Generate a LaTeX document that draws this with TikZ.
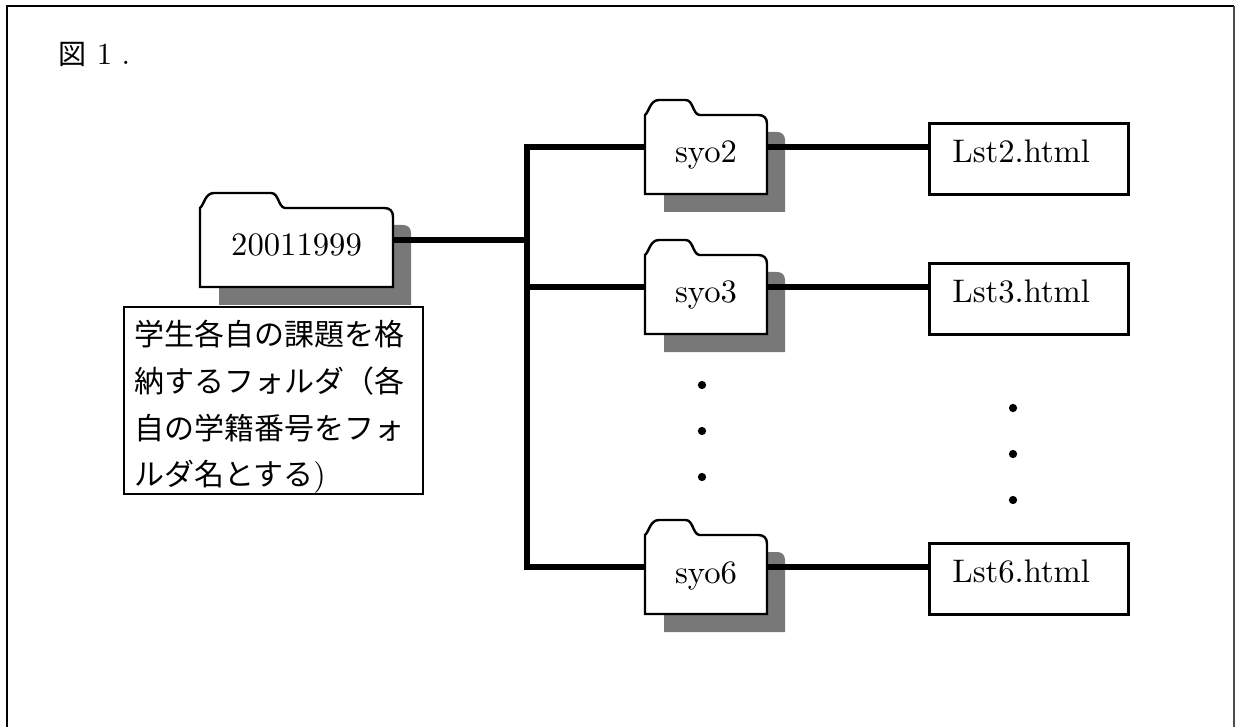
\documentclass[tikz,border=0pt]{standalone}
\usepackage{fontspec}
\usepackage{tikz}
\usetikzlibrary{positioning}
\setmainfont{lmroman10-regular.otf}
\newfontfamily\cjk{Noto Sans CJK JP}
\definecolor{foldershade}{RGB}{120,120,120}
\newcommand{\folderbox}[5]{
\begin{scope}[shift={(#2,#3)}]
\fill[foldershade] (19,112) -- (19,32) -- (#4+10,32) .. controls (#4+15,32) and (#4+18,35) .. (#4+18,40) -- (#4+18,112) -- cycle;
\draw[outline,fill=white] (0,94) -- (0,15) .. controls (4,12) and (5,0) .. (14,0) -- (#4*0.43-12,0) .. controls (#4*0.43-4,0) and (#4*0.43-5,14) .. (#4*0.43+2,15) -- (#4-9,15) .. controls (#4-3,15) and (#4,18) .. (#4,24) -- (#4,94) -- cycle;
\node[folder,minimum width=0.75pt*#4] (#1) at (#4/2,47) {#5};
\end{scope}
}
\begin{document}
\begin{tikzpicture}[
  x=0.75pt,y=-0.75pt,
  node distance=122pt,
  every node/.style={font=\fontsize{24.5}{28}\selectfont},
  outline/.style={line width=1.8pt,draw=black},
  folder/.style={rectangle,inner sep=0pt,outer sep=0pt,minimum height=70.5pt,text height=30pt,text depth=6pt},
  lstbox/.style={rectangle,draw,line width=1.8pt,outer sep=0pt,inner xsep=17pt,inner ysep=0pt,text width=115pt,align=left,minimum height=53pt,text height=17pt,text depth=12pt,yshift=-9pt},
  notebox/.style={rectangle,draw,line width=1.8pt,inner xsep=7.5pt,inner ysep=0pt,text width=209pt,minimum height=136pt,align=left,font=\fontsize{22.5}{35}\selectfont\cjk},
  conn/.style={line width=4.6pt,draw=black},
  dotmark/.style={circle,fill=black,inner sep=0pt,minimum size=6.2pt}
]
\useasboundingbox (0,0) rectangle (1235,727);
\draw[line width=2.2pt] (7,727) |- (1234,6);
\draw[line width=1.4pt,draw=black!70] (1234,6) -- (1234,727);

\node[anchor=base west,inner sep=0pt,font=\fontsize{23}{28}\selectfont] (figtitle) at (58,65) {{\cjk\fontsize{21}{21}\selectfont 図}\hspace{8pt}1\hspace{7pt}.};

\folderbox{root}{200}{193}{193}{20011999}
\folderbox{syo2}{645}{100}{122}{syo2}
\folderbox{syo3}{645}{240}{122}{syo3}
\folderbox{syo6}{645}{520}{122}{syo6}

\node[lstbox,right=of syo2] (lst2) {Lst2.html};
\node[lstbox,right=of syo3] (lst3) {Lst3.html};
\node[lstbox,right=of syo6] (lst6) {Lst6.html};

\node[notebox] (note) at (273.5,400.5) {\rule{0pt}{29pt}学生各自の課題を格\\納するフォルダ（各\\自の学籍番号をフォ\\ルダ名とする{\rmfamily\fontsize{24}{35}\selectfont)}};

\coordinate (bus) at (527,240);
\draw[conn] (root.east) -- (bus);
\draw[conn] (syo2.west) -| (bus) |- (syo6.west);
\draw[conn] (bus |- syo3.west) -- (syo3.west);
\draw[conn] (syo2.east) -- (syo2.east -| lst2.west);
\draw[conn] (syo3.east) -- (syo3.east -| lst3.west);
\draw[conn] (syo6.east) -- (syo6.east -| lst6.west);

\node[dotmark] (dotl1) at (702,385) {};
\node[dotmark] (dotl2) at (702,431) {};
\node[dotmark] (dotl3) at (702,477) {};
\node[dotmark] (dotr1) at (1013,408) {};
\node[dotmark] (dotr2) at (1013,454) {};
\node[dotmark] (dotr3) at (1013,500) {};
\end{tikzpicture}
\end{document}
